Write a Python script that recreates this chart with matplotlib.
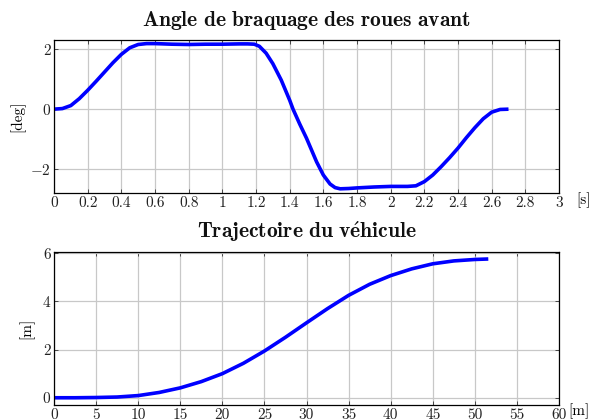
import matplotlib
matplotlib.use("Agg")
import matplotlib.pyplot as plt
import numpy as np

plt.rcParams['mathtext.fontset'] = 'cm'
plt.rcParams['font.family'] = 'serif'
plt.rcParams['font.serif'] = ['cmr10', 'DejaVu Serif']
plt.rcParams['axes.formatter.use_mathtext'] = True

# Steering angle data
t = [0.0, 0.05, 0.1, 0.15, 0.2, 0.25, 0.3, 0.35, 0.4, 0.45, 0.5, 0.55, 0.6, 0.7, 0.8, 0.9,
     1.0, 1.1, 1.15, 1.19, 1.22, 1.26, 1.3, 1.35, 1.4, 1.42, 1.46, 1.5, 1.56, 1.6, 1.64,
     1.67, 1.7, 1.75, 1.8, 1.9, 2.0, 2.1, 2.15, 2.2, 2.25, 2.3, 2.35, 2.4, 2.45, 2.5,
     2.55, 2.6, 2.65, 2.7]
angle = [0.0, 0.02, 0.12, 0.35, 0.63, 0.93, 1.24, 1.55, 1.83, 2.05, 2.16, 2.19, 2.19, 2.17,
         2.16, 2.17, 2.17, 2.18, 2.18, 2.17, 2.1, 1.87, 1.52, 0.97, 0.3, 0.0, -0.5, -0.97,
         -1.76, -2.2, -2.5, -2.62, -2.66, -2.65, -2.63, -2.6, -2.58, -2.58, -2.56, -2.42,
         -2.2, -1.92, -1.62, -1.3, -0.95, -0.62, -0.32, -0.1, -0.01, 0.0]

# Trajectory data
xpos = [0, 2.5, 5, 7.5, 10, 12.5, 15, 17.5, 20, 22.5, 25, 27.5, 30, 32.5, 35, 37.5, 40,
        42.5, 45, 47.5, 50, 51.6]
ypos = [0.0, 0.0, 0.01, 0.03, 0.09, 0.22, 0.41, 0.67, 1.0, 1.43, 1.94, 2.51, 3.11, 3.7,
        4.25, 4.71, 5.07, 5.35, 5.56, 5.68, 5.74, 5.76]

t_ticks = ['0', '0.2', '0.4', '0.6', '0.8', '1', '1.2', '1.4', '1.6', '1.8', '2',
           '2.2', '2.4', '2.6', '2.8', '3']
x_ticks = [str(v) for v in range(0, 61, 5)]

fig = plt.figure(figsize=(5.89, 4.2), dpi=100)
ax1 = fig.add_axes([54/589, 1-193/420, 505/589, 153/420])
ax2 = fig.add_axes([54/589, 1-404.5/420, 505/589, 152.5/420])

blue = '#0000ff'
for ax in (ax1, ax2):
    ax.grid(True, color='#c8c8c8', linewidth=0.9)
    ax.set_axisbelow(True)
    ax.tick_params(direction='in', length=3, width=0.6, labelsize=11, top=True, right=True,
                   pad=2.5, colors='#333333', labelcolor='#222222')
    for s in ax.spines.values():
        s.set_linewidth(0.9)

ax1.plot(t, angle, color=blue, linewidth=2.6, solid_capstyle='butt', solid_joinstyle='round')
ax1.set_xlim(0, 3)
ax1.set_ylim(-2.8, 2.31)
ax1.set_xticks(np.arange(0, 3.01, 0.2))
ax1.set_xticklabels(t_ticks)
ax1.set_yticks([-2, 0, 2])
ax1.set_yticklabels(['$-2$', '0', '2'])
ax1.set_ylabel('[deg]', fontsize=11, labelpad=3)
ax1.set_title(r'$\mathbf{Angle\ de\ braquage\ des\ roues\ avant}$', fontsize=15.5, pad=10,
              color='#111111')
ax1.text(1.048, -0.045, '[s]', transform=ax1.transAxes, fontsize=11, va='center', ha='center')

ax2.plot(xpos, ypos, color=blue, linewidth=2.6, solid_capstyle='butt', solid_joinstyle='round')
ax2.set_xlim(0, 60)
ax2.set_ylim(-0.28, 6.05)
ax2.set_xticks(np.arange(0, 61, 5))
ax2.set_xticklabels(x_ticks)
ax2.set_yticks([0, 2, 4, 6])
ax2.set_yticklabels(['0', '2', '4', '6'])
ax2.set_ylabel('[m]', fontsize=11, labelpad=6)
ax2.set_title(r'$\mathbf{Trajectoire\ du\ v\acute{e}hicule}$', fontsize=15.5, pad=10,
              color='#111111')
ax2.text(1.04, -0.045, '[m]', transform=ax2.transAxes, fontsize=11, va='center', ha='center')

fig.savefig('out.png', dpi=100)
